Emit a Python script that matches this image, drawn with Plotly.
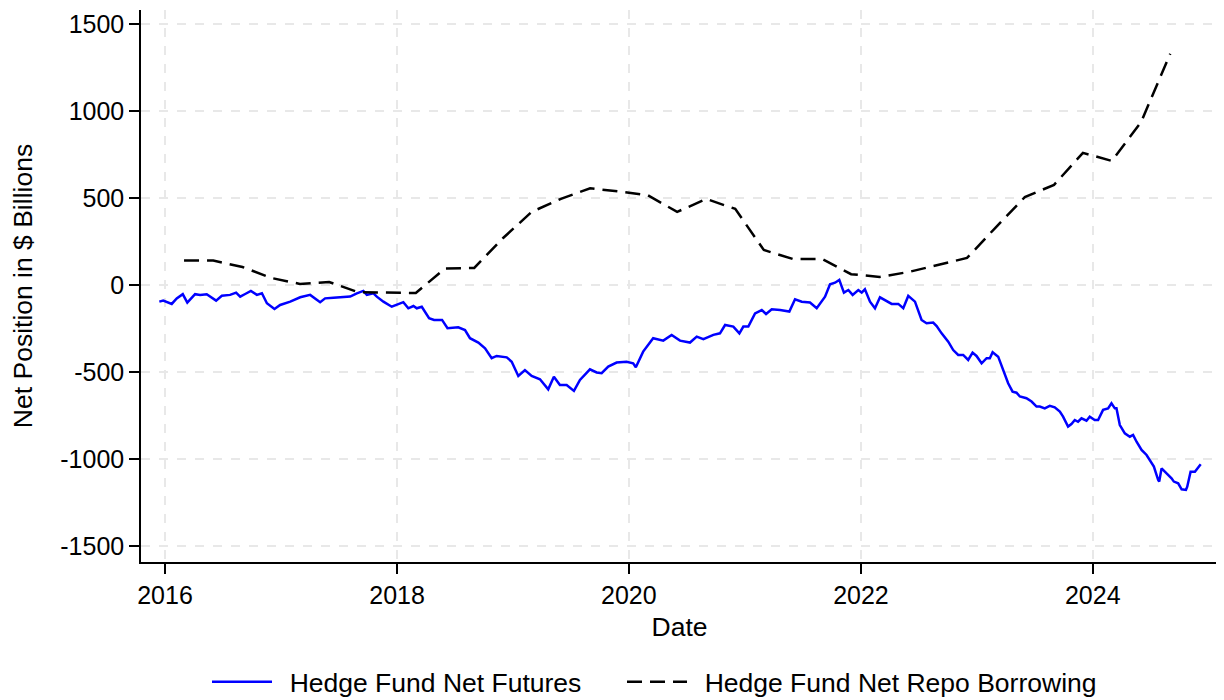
import pandas as pd
import plotly.graph_objects as go

# Hedge fund net futures (weekly-ish readings), dates as decimal years
fut_year = [2015.951, 2015.985, 2016.058, 2016.101, 2016.153, 2016.192, 2016.259, 2016.302, 2016.359, 2016.440,
            2016.489, 2016.560, 2016.612, 2016.647, 2016.690, 2016.739, 2016.791, 2016.834, 2016.877, 2016.942,
            2016.991, 2017.078, 2017.164, 2017.250, 2017.336, 2017.379, 2017.451, 2017.537, 2017.595, 2017.653,
            2017.709, 2017.739, 2017.796, 2017.825, 2017.882, 2017.954, 2017.997, 2018.054, 2018.097, 2018.141,
            2018.170, 2018.213, 2018.276, 2018.319, 2018.388, 2018.435, 2018.528, 2018.586, 2018.629, 2018.701,
            2018.759, 2018.816, 2018.859, 2018.946, 2018.989, 2019.046, 2019.103, 2019.161, 2019.233, 2019.304,
            2019.353, 2019.405, 2019.463, 2019.526, 2019.578, 2019.664, 2019.722, 2019.765, 2019.822, 2019.894,
            2019.980, 2020.037, 2020.060, 2020.123, 2020.209, 2020.296, 2020.368, 2020.440, 2020.526, 2020.584,
            2020.641, 2020.727, 2020.784, 2020.828, 2020.899, 2020.951, 2020.985, 2021.028, 2021.086, 2021.144,
            2021.181, 2021.230, 2021.302, 2021.382, 2021.431, 2021.489, 2021.560, 2021.618, 2021.690, 2021.733,
            2021.776, 2021.813, 2021.853, 2021.891, 2021.928, 2021.977, 2022.006, 2022.034, 2022.078, 2022.121,
            2022.164, 2022.207, 2022.265, 2022.322, 2022.365, 2022.408, 2022.466, 2022.523, 2022.566, 2022.623,
            2022.653, 2022.696, 2022.753, 2022.796, 2022.839, 2022.882, 2022.925, 2022.963, 2022.997, 2023.041,
            2023.084, 2023.112, 2023.136, 2023.184, 2023.227, 2023.270, 2023.308, 2023.342, 2023.371, 2023.428,
            2023.472, 2023.515, 2023.543, 2023.586, 2023.629, 2023.672, 2023.716, 2023.744, 2023.787, 2023.816,
            2023.845, 2023.873, 2023.903, 2023.946, 2023.974, 2024.017, 2024.046, 2024.089, 2024.132, 2024.161,
            2024.190, 2024.204, 2024.233, 2024.276, 2024.319, 2024.347, 2024.377, 2024.420, 2024.463, 2024.491,
            2024.526, 2024.563, 2024.572, 2024.592, 2024.635, 2024.678, 2024.698, 2024.735, 2024.765, 2024.802,
            2024.813, 2024.842, 2024.879, 2024.908, 2024.929]
fut_val = [-96, -90, -109, -77, -53, -102, -53, -57, -53, -90,
           -62, -57, -44, -67, -52, -34, -57, -48, -105, -138,
           -115, -96, -71, -57, -99, -77, -73, -67, -67, -48,
           -34, -57, -48, -67, -96, -125, -115, -99, -134, -121,
           -134, -125, -191, -201, -201, -249, -243, -259, -306, -331,
           -364, -421, -408, -416, -441, -523, -489, -523, -542, -600,
           -527, -575, -575, -609, -546, -485, -503, -507, -469, -446,
           -441, -450, -473, -383, -306, -320, -287, -320, -331, -297,
           -312, -287, -278, -230, -239, -278, -239, -239, -163, -144,
           -167, -140, -144, -153, -82, -96, -101, -134, -67, 4,
           13, 29, -44, -29, -57, -29, -44, -25, -96, -134,
           -71, -86, -109, -109, -134, -63, -96, -201, -220, -216,
           -236, -278, -326, -374, -402, -402, -431, -389, -408, -450,
           -421, -421, -387, -412, -489, -565, -613, -619, -641, -651,
           -670, -699, -699, -709, -695, -703, -728, -757, -814, -799,
           -776, -786, -766, -780, -757, -776, -776, -718, -709, -680,
           -709, -709, -805, -853, -872, -862, -901, -948, -977, -1006,
           -1044, -1121, -1130, -1054, -1082, -1111, -1130, -1140, -1174, -1178,
           -1159, -1073, -1073, -1044, -1030]

# Hedge fund net repo borrowing (quarterly)
repo_date = ["2016-03-01", "2016-06-01", "2016-09-01", "2016-12-01",
             "2017-03-01", "2017-06-01", "2017-09-01", "2017-12-01",
             "2018-03-01", "2018-06-01", "2018-09-01", "2018-12-01",
             "2019-03-01", "2019-06-01", "2019-09-01", "2019-12-01",
             "2020-03-01", "2020-06-01", "2020-09-01", "2020-12-01",
             "2021-03-01", "2021-06-01", "2021-09-01", "2021-12-01",
             "2022-03-01", "2022-06-01", "2022-09-01", "2022-12-01",
             "2023-03-01", "2023-06-01", "2023-09-01", "2023-12-01",
             "2024-03-01", "2024-06-01", "2024-09-01"]
repo_val = [140, 140, 103, 40, 6, 17, -42, -46, -46, 95, 98, 270,
            420, 495, 555, 537, 515, 420, 494, 437, 201, 149, 149, 62,
            46, 75, 115, 155, 330, 505, 575, 759, 713, 935, 1328]

y_ticks = [-1500, -1000, -500, 0, 500, 1000, 1500]
y_tick_text = ["-1500", "-1000", "-500", "0", "500", "1000", "1500"]
x_tick_years = [2016, 2018, 2020, 2022, 2024]


def dec_to_ts(y):
    yr = int(y)
    start = pd.Timestamp(year=yr, month=1, day=1)
    end = pd.Timestamp(year=yr + 1, month=1, day=1)
    return start + (end - start) * (y - yr)


fut_dates = [dec_to_ts(v) for v in fut_year]

FONT = "Liberation Sans, Arial, sans-serif"
GAP = "\u00a0\u2009"

fig = go.Figure()
fig.add_trace(go.Scatter(x=fut_dates, y=fut_val, mode="lines",
                         name=GAP + "Hedge Fund Net Futures", legend="legend",
                         line=dict(color="#0000ff", width=2.5)))
fig.add_trace(go.Scatter(x=pd.to_datetime(repo_date), y=repo_val, mode="lines",
                         name=GAP + "Hedge Fund Net Repo Borrowing", legend="legend2",
                         line=dict(color="#000000", width=2.5, dash="15px,8px")))

leg_common = dict(orientation="h", yref="container", y=0.0371, yanchor="middle",
                  xref="container", xanchor="left", font=dict(size=26.5), itemwidth=60,
                  bgcolor="rgba(0,0,0,0)")

fig.update_layout(
    width=1224, height=700,
    margin=dict(l=133, r=14, t=2, b=146),
    paper_bgcolor="white", plot_bgcolor="white",
    font=dict(family=FONT, size=25, color="#000"),
    showlegend=True,
    legend=dict(x=199 / 1224, **leg_common),
    legend2=dict(x=614 / 1224, **leg_common),
)
fig.update_xaxes(
    range=[dec_to_ts(2015.793), dec_to_ts(2025.078)],
    tickvals=[pd.Timestamp(year=y, month=1, day=1) for y in x_tick_years],
    ticktext=[str(y) for y in x_tick_years],
    tickfont=dict(size=25),
    title=dict(text="Date", font=dict(size=26.5), standoff=10),
    showline=True, linecolor="#000", linewidth=1.5, mirror=False,
    ticks="outside", ticklen=10, tickcolor="#000", tickwidth=1.5,
    showgrid=True, gridcolor="#e8e8e8", griddash="dash", gridwidth=1.5,
    zeroline=False,
)
fig.update_yaxes(
    range=[-1592, 1580],
    tickvals=y_ticks, ticktext=y_tick_text,
    tickfont=dict(size=25),
    title=dict(text="Net Position in $ Billions", font=dict(size=26.5), standoff=23),
    showline=True, linecolor="#000", linewidth=1.5,
    ticks="outside", ticklen=10, tickcolor="#000", tickwidth=1.5,
    showgrid=True, gridcolor="#e8e8e8", griddash="dash", gridwidth=1.5,
    zeroline=False,
)

fig.write_html("out.html")
